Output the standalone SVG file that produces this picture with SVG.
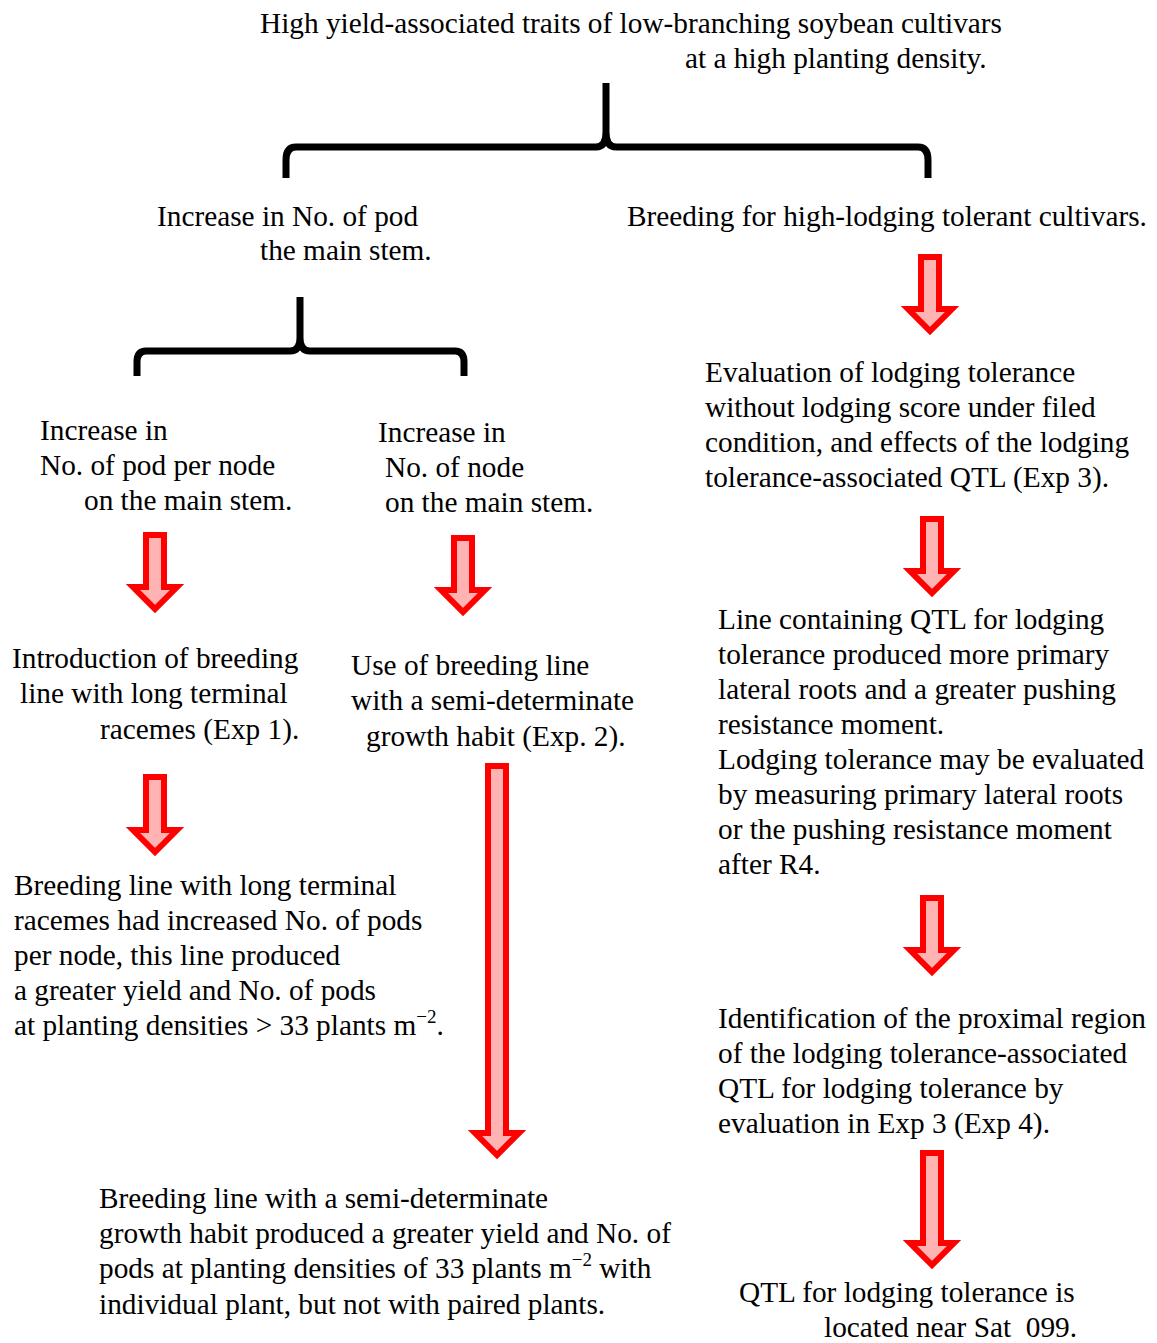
<svg xmlns="http://www.w3.org/2000/svg" width="1157" height="1343" viewBox="0 0 1157 1343">
<defs>
<style>
.brace{fill:none;stroke:#000;stroke-width:7;stroke-linejoin:round}
.arr{fill:#FFB3B3;stroke:#FF0000;stroke-width:6;stroke-linejoin:miter}
</style>
</defs>
<rect width="1157" height="1343" fill="#fff"/>
<g id="connectors">
<path class="brace" d="M606,83 V132 Q606,147 596,147 H296 Q286,147 286,160 V178 M606,132 Q606,147 616,147 H918 Q928,147 928,160 V178"/>
<path class="brace" d="M300,297 V338 Q300,351 290,351 H146 Q137,351 137,362 V376 M300,338 Q300,351 310,351 H455 Q464,351 464,362 V376"/>
<path class="arr" d="M146,535 H164 V587 H177 L155,609 L133,587 H146 Z"/>
<path class="arr" d="M454,538 H472 V590 H485 L463,612 L441,590 H454 Z"/>
<path class="arr" d="M921,257 H939 V309 H952 L930,331 L908,309 H921 Z"/>
<path class="arr" d="M923,519 H941 V571 H954 L932,593 L910,571 H923 Z"/>
<path class="arr" d="M146,777 H164 V830 H177 L155,852 L133,830 H146 Z"/>
<path class="arr" d="M488,766 H506 V1133 H519 L497,1155 L475,1133 H488 Z"/>
<path class="arr" d="M923,898 H941 V950 H954 L932,972 L910,950 H923 Z"/>
<path class="arr" d="M923,1153 H941 V1243 H954 L932,1265 L910,1243 H923 Z"/>
</g>
<g font-family="'Liberation Serif', serif" font-size="29.3" fill="#000" transform="translate(0,1)">
<g id="n-title"><text x="260" y="32">High yield-associated traits of low-branching soybean cultivars</text><text x="685" y="67">at a high planting density.</text></g>
<g id="n-pod"><text x="157" y="225">Increase in No. of pod</text><text x="260" y="259">the main stem.</text></g>
<g id="n-lodging"><text x="627" y="225">Breeding for high-lodging tolerant cultivars.</text></g>
<g id="n-podnode"><text x="40" y="439">Increase in</text><text x="40" y="474">No. of pod per node</text><text x="84" y="509">on the main stem.</text></g>
<g id="n-node"><text x="378" y="441">Increase in</text><text x="385" y="476">No. of node</text><text x="385" y="511">on the main stem.</text></g>
<g id="n-eval"><text x="705" y="381">Evaluation of lodging tolerance</text><text x="705" y="416">without lodging score under filed</text><text x="705" y="451">condition, and effects of the lodging</text><text x="705" y="486">tolerance-associated QTL (Exp 3).</text></g>
<g id="n-exp1"><text x="12" y="667">Introduction of breeding</text><text x="20" y="702">line with long terminal</text><text x="100" y="738">racemes (Exp 1).</text></g>
<g id="n-exp2"><text x="351" y="674">Use of breeding line</text><text x="351" y="709">with a semi-determinate</text><text x="366" y="745">growth habit (Exp. 2).</text></g>
<g id="n-roots"><text x="718" y="628">Line containing QTL for lodging</text><text x="718" y="663">tolerance produced more primary</text><text x="718" y="698">lateral roots and a greater pushing</text><text x="718" y="733">resistance moment.</text><text x="718" y="768">Lodging tolerance may be evaluated</text><text x="718" y="803">by measuring primary lateral roots</text><text x="718" y="838">or the pushing resistance moment</text><text x="718" y="873">after R4.</text></g>
<g id="n-res1"><text x="14" y="894">Breeding line with long terminal</text><text x="14" y="929">racemes had increased No. of pods</text><text x="14" y="964">per node, this line produced</text><text x="14" y="999">a greater yield and No. of pods</text><text x="14" y="1034">at planting densities &gt; 33 plants m<tspan dy="-12" font-size="19">−2</tspan><tspan dy="12">.</tspan></text></g>
<g id="n-exp4"><text x="718" y="1027">Identification of the proximal region</text><text x="718" y="1062">of the lodging tolerance-associated</text><text x="718" y="1097">QTL for lodging tolerance by</text><text x="718" y="1132">evaluation in Exp 3 (Exp 4).</text></g>
<g id="n-res2"><text x="99" y="1207">Breeding line with a semi-determinate</text><text x="99" y="1242">growth habit produced a greater yield and No. of</text><text x="99" y="1277">pods at planting densities of 33 plants m<tspan dy="-12" font-size="19">−2</tspan><tspan dy="12"> with</tspan></text><text x="99" y="1313">individual plant, but not with paired plants.</text></g>
<g id="n-sat"><text x="739" y="1301">QTL for lodging tolerance is</text><text x="824" y="1336">located near Sat&#160;&#160;099.</text></g>
</g>
</svg>
